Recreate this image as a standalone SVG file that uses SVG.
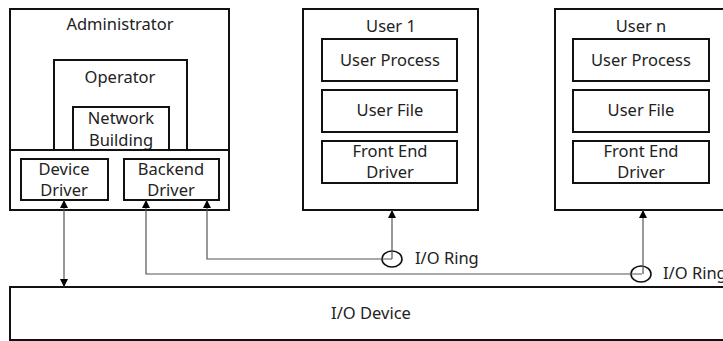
<svg xmlns="http://www.w3.org/2000/svg" width="723" height="341" viewBox="0 0 723 341">
<style>
.box{fill:#fff;stroke:#111;stroke-width:2}
.t{font-family:"Noto Sans","Open Sans",sans-serif;font-size:16.5px;fill:#222;text-anchor:middle}
.tl{font-family:"Noto Sans","Open Sans",sans-serif;font-size:16.5px;fill:#222}
.ln{fill:none;stroke:#555;stroke-width:1.2}
.ring{fill:none;stroke:#111;stroke-width:1.6}
</style>
<defs>
<marker id="ah" viewBox="0 0 10 10" refX="10" refY="5" markerWidth="8" markerHeight="8" markerUnits="userSpaceOnUse" orient="auto-start-reverse">
<path d="M0,0 L10,5 L0,10 z" fill="#000"/>
</marker>
</defs>
<rect width="723" height="341" fill="#fff"/>
<g id="administrator">
<rect class="box" x="10" y="9" width="219" height="201"/>
<text class="t" x="120" y="30">Administrator</text>
<rect class="box" x="54" y="60" width="133" height="90"/>
<text class="t" x="120" y="83">Operator</text>
<rect class="box" x="73" y="107" width="96" height="43"/>
<text class="t" x="121" y="124">Network</text>
<text class="t" x="121" y="146">Building</text>
<line x1="10" y1="150" x2="229" y2="150" stroke="#111" stroke-width="2"/>
</g>
<g id="device-driver">
<rect class="box" x="21" y="159" width="87" height="41"/>
<text class="t" x="64" y="175">Device</text>
<text class="t" x="64" y="196">Driver</text>
</g>
<g id="backend-driver">
<rect class="box" x="124" y="159" width="95" height="41"/>
<text class="t" x="171" y="175">Backend</text>
<text class="t" x="171" y="196">Driver</text>
</g>
<g id="user1">
<rect class="box" x="303" y="9" width="175" height="201"/>
<text class="t" x="391" y="32">User 1</text>
<rect class="box" x="322" y="39" width="135" height="42"/>
<text class="t" x="390" y="66">User Process</text>
<rect class="box" x="322" y="90" width="135" height="42"/>
<text class="t" x="390" y="116">User File</text>
<rect class="box" x="322" y="141" width="135" height="42"/>
<text class="t" x="390" y="157">Front End</text>
<text class="t" x="390" y="178">Driver</text>
</g>
<g id="usern">
<rect class="box" x="555" y="9" width="180" height="201"/>
<text class="t" x="641" y="32">User n</text>
<rect class="box" x="573" y="39" width="136" height="42"/>
<text class="t" x="641" y="66">User Process</text>
<rect class="box" x="573" y="90" width="136" height="42"/>
<text class="t" x="641" y="116">User File</text>
<rect class="box" x="573" y="141" width="136" height="42"/>
<text class="t" x="641" y="157">Front End</text>
<text class="t" x="641" y="178">Driver</text>
</g>
<g id="io-device">
<rect class="box" x="10" y="287" width="725" height="53"/>
<text class="t" x="371" y="319">I/O Device</text>
</g>
<g id="io-ring-1">
<ellipse class="ring" cx="392" cy="259" rx="10" ry="8"/>
<text class="tl" x="415" y="264">I/O Ring</text>
</g>
<g id="io-ring-n">
<ellipse class="ring" cx="641" cy="274" rx="10" ry="8"/>
<text class="tl" x="663" y="279">I/O Ring</text>
</g>
<g id="connectors">
<line class="ln" x1="64" y1="200" x2="64" y2="287" marker-start="url(#ah)" marker-end="url(#ah)"/>
<polyline class="ln" points="392,259 207,259 207,200" marker-end="url(#ah)"/>
<polyline class="ln" points="642,274 146,274 146,200" marker-end="url(#ah)"/>
<line class="ln" x1="392" y1="259" x2="392" y2="210" marker-end="url(#ah)"/>
<line class="ln" x1="643" y1="274" x2="643" y2="210" marker-end="url(#ah)"/>
</g>
</svg>
